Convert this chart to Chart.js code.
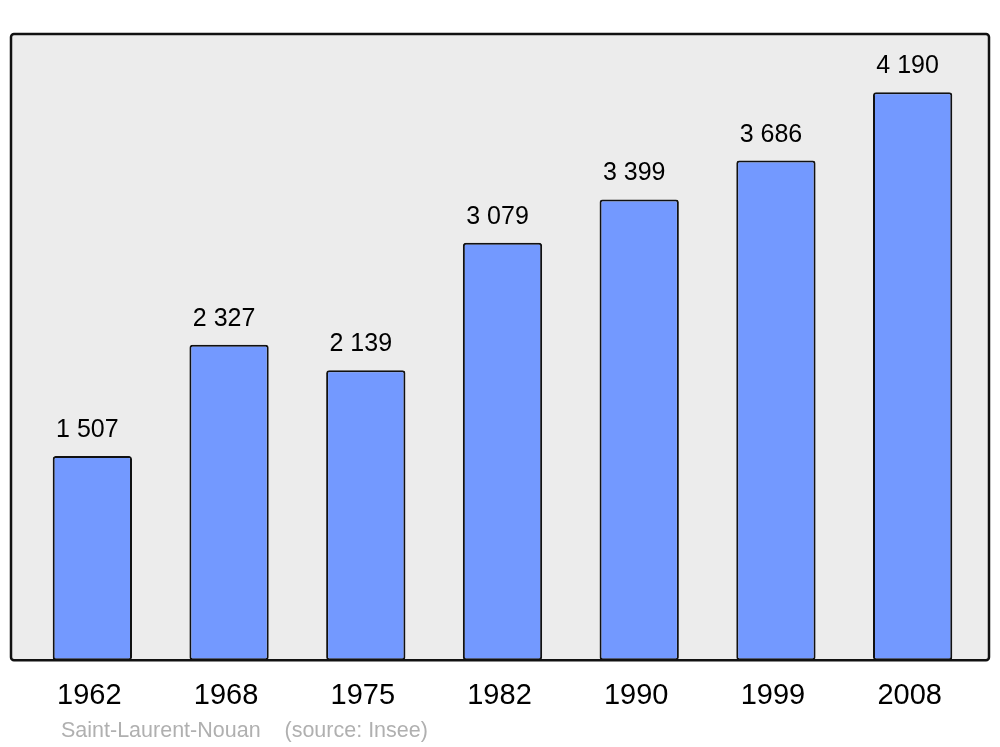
<!DOCTYPE html>
<html>
<head>
<meta charset="utf-8">
<script src="https://cdn.jsdelivr.net/npm/chart.js@4"></script>
<style>
  html, body { margin: 0; padding: 0; background: #ffffff; }
  #wrap { width: 1000px; height: 747px; }
</style>
</head>
<body>
<div id="wrap"><canvas id="grafico" width="1000" height="747"></canvas></div>
<script>
// données
const annees = ['1962', '1968', '1975', '1982', '1990', '1999', '2008'];
const population = [1507, 2327, 2139, 3079, 3399, 3686, 4190];
const source = 'Saint-Laurent-Nouan    (source: Insee)';

function formatNombre(v) {
    return String(v).replace(/\B(?=(\d{3})+(?!\d))/g, ' ');
}

// fond gris + cadre
const fondPanneau = {
    id: 'fondPanneau',
    beforeDraw(chart) {
        const ctx = chart.ctx;
        const a = chart.chartArea;
        const x0 = a.left - 13, x1 = a.right + 8;
        ctx.save();
        ctx.beginPath();
        ctx.roundRect(x0, a.top, x1 - x0, a.bottom - a.top, 3);
        ctx.fillStyle = '#ececec';
        ctx.fill();
        ctx.restore();
    },
    afterDatasetsDraw(chart) {
        const ctx = chart.ctx;
        const a = chart.chartArea;
        const x0 = a.left - 13, x1 = a.right + 8;
        ctx.save();
        ctx.beginPath();
        ctx.roundRect(x0, a.top, x1 - x0, a.bottom - a.top, 3);
        ctx.lineWidth = 2.5;
        ctx.strokeStyle = '#111111';
        ctx.stroke();
        ctx.restore();
    }
};

// valeurs au-dessus des barres + source
const etiquettes = {
    id: 'etiquettes',
    afterDraw(chart) {
        const ctx = chart.ctx;
        const meta = chart.getDatasetMeta(0);
        ctx.save();
        ctx.font = '25px "Liberation Sans", Arial, sans-serif';
        ctx.fillStyle = '#000000';
        ctx.textAlign = 'center';
        ctx.textBaseline = 'alphabetic';
        meta.data.forEach(function(bar, i) {
            ctx.fillText(formatNombre(population[i]), bar.x - 5, bar.y - 19);
        });
        ctx.font = '21.5px "Liberation Sans", Arial, sans-serif';
        ctx.fillStyle = '#b0b0b0';
        ctx.textAlign = 'left';
        ctx.fillText(source, chart.chartArea.left + 37, 737);
        ctx.restore();
    }
};

new Chart(document.getElementById('grafico'), {
    type: 'bar',
    data: {
        labels: annees,
        datasets: [{
            data: population,
            backgroundColor: '#7399ff',
            borderColor: '#111111',
            borderWidth: 2,
            borderRadius: 3,
            borderSkipped: false,
            barPercentage: 0.58,
            categoryPercentage: 1
        }]
    },
    options: {
        responsive: false,
        animation: false,
        layout: {
            padding: { left: 24, right: 19, top: 34, bottom: 24 }
        },
        plugins: {
            legend: { display: false },
            tooltip: { enabled: false },
            title: { display: false }
        },
        scales: {
            x: {
                grid: { display: false },
                border: { display: false },
                ticks: {
                    color: '#000000',
                    padding: 10,
                    labelOffset: -3,
                    font: { family: '"Liberation Sans", Arial, sans-serif', size: 29 }
                }
            },
            y: {
                display: false,
                min: 0,
                max: 4620
            }
        }
    },
    plugins: [fondPanneau, etiquettes]
});
</script>
</body>
</html>
